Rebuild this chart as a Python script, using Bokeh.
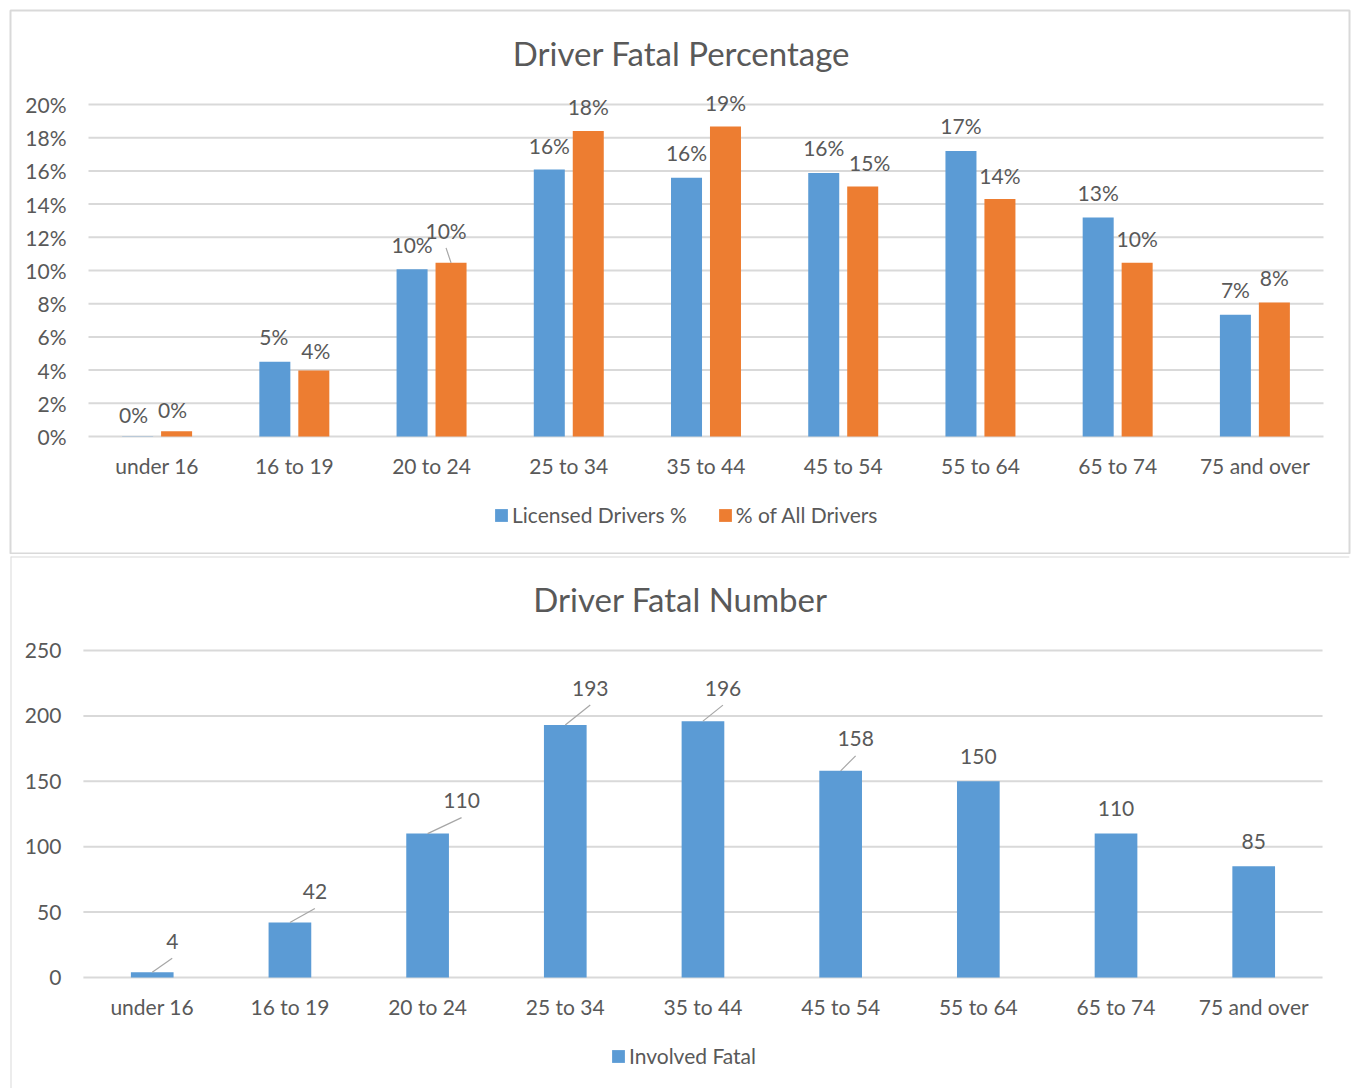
from bokeh.plotting import figure
from bokeh.models import (Range1d, FixedTicker, Legend, LegendItem,
                          ColumnDataSource, Label, Span)
from bokeh.layouts import column
from bokeh.core.properties import value
from bokeh.embed import file_html
from bokeh.resources import INLINE

# ---------------- data ----------------
categories = ["under 16", "16 to 19", "20 to 24", "25 to 34", "35 to 44",
              "45 to 54", "55 to 64", "65 to 74", "75 and over"]
licensed_pct = [0.02, 4.5, 10.07, 16.09, 15.58, 15.88, 17.20, 13.20, 7.34]
all_drivers_pct = [0.32, 3.97, 10.46, 18.40, 18.68, 15.06, 14.30, 10.46, 8.07]
involved_fatal = [4, 42, 110, 193, 196, 158, 150, 110, 85]
pct_ticks = [0, 2, 4, 6, 8, 10, 12, 14, 16, 18, 20]
num_ticks = [0, 50, 100, 150, 200, 250]

# ---------------- style ----------------
FONT = "Lato"
TXT = "#595959"
GRID = "#D9D9D9"
BLUE = "#5B9BD5"
ORANGE = "#ED7D31"
LEADER = "#A6A6A6"
W = 1351
FS = "21px"

# label placement tweaks (screen px; dy = upward distance of label centre above bar top)
lic_lbl_dx = [-4, -1, 0, 0, 0, 0, 0, 0, 0]
lic_lbl_dy = [22, 25, 25, 24, 25, 25, 25, 25, 25]
all_lbl_dx = [-4, 2, -5, 0, 0, 7, 0, 0, 0]
all_lbl_dy = [22, 20, 32, 25, 24, 24, 24, 24, 25]
all_leader = [0, 0, 1, 0, 0, 0, 0, 0, 0]
fat_lbl_dx = [20, 25, 34, 25, 20, 15, 0, 0, 0]
fat_lbl_dy = [31, 31, 33, 37, 33, 32, 25, 25, 25]
fat_leader = [1, 1, 1, 1, 1, 1, 0, 0, 0]

idx = list(range(len(categories)))


def pct_label(v):
    return f"{int(v + 0.5)}%"


def make_fig(H, mb, cat_left, cat_right, zero_y, unit_px, ticks, labels,
             title, title_cx, title_cy, full_outline=True):
    """mb = (left, right, top, bottom) borders; other geometry is frame-relative px."""
    mbl, mbr, mbt, mbb = mb
    fw = W - mbl - mbr
    fh = H - mbt - mbb
    pxc = (cat_right - cat_left) / len(categories)
    x0 = -0.5 - cat_left / pxc
    x1 = -0.5 + (fw - cat_left) / pxc
    y1 = zero_y / unit_px
    y0 = -(fh - zero_y) / unit_px
    p = figure(x_range=Range1d(x0, x1), y_range=Range1d(y0, y1),
               width=W, height=H, output_backend="svg", toolbar_location=None,
               min_border_left=mbl, min_border_right=mbr, min_border_top=mbt,
               min_border_bottom=mbb)
    if full_outline:
        p.outline_line_color = GRID
        p.outline_line_width = 2
    else:
        p.outline_line_color = None
        p.add_layout(Span(location=y1, dimension="width", line_color=GRID, line_width=2))
        p.add_layout(Span(location=x0, dimension="height", line_color=GRID, line_width=2))
    p.background_fill_color = "white"
    p.border_fill_color = "white"
    p.xgrid.grid_line_color = None
    p.ygrid.grid_line_color = None
    # horizontal grid lines limited to the plot area (category span)
    n = len(ticks)
    p.segment(x0=[-0.5] * n, x1=[len(categories) - 0.5] * n, y0=ticks, y1=ticks,
              line_color=GRID, line_width=2, level="underlay")
    p.yaxis.ticker = FixedTicker(ticks=ticks)
    p.yaxis.major_label_overrides = {t: l for t, l in zip(ticks, labels)}
    p.xaxis.ticker = FixedTicker(ticks=idx)
    p.xaxis.major_label_overrides = {i: c for i, c in zip(idx, categories)}
    p.xaxis.fixed_location = 0
    p.yaxis.fixed_location = -0.5
    for ax in (p.xaxis[0], p.yaxis[0]):
        ax.axis_line_color = None
        ax.major_tick_line_color = None
        ax.minor_tick_line_color = None
        ax.major_tick_out = 0
        ax.major_tick_in = 0
        ax.minor_tick_out = 0
        ax.major_label_text_font = FONT
        ax.major_label_text_font_size = FS
        ax.major_label_text_color = TXT
    p.yaxis.major_label_standoff = 22
    p.xaxis.major_label_standoff = 16
    tx = -0.5 + (title_cx - cat_left) / pxc
    ty = (zero_y - title_cy) / unit_px
    p.add_layout(Label(x=tx, y=ty, text=title, text_align="center",
                       text_baseline="middle", text_font=FONT,
                       text_font_size="33px", text_color=TXT))
    return p, pxc


def legend(p, items, loc, spacing=30):
    lg = Legend(items=items, orientation="horizontal", location=loc,
                glyph_width=16, glyph_height=16, label_standoff=3, spacing=spacing,
                label_text_font=FONT, label_text_font_size=FS,
                label_text_color=TXT, border_line_color=None,
                background_fill_alpha=0, padding=0, margin=0)
    p.add_layout(lg)


# ================= top chart =================
H1 = 554
U1 = 16.6
p1, pxc1 = make_fig(H1, (10, 2, 10, 1), 78, 1313, 426, U1, pct_ticks,
                    [f"{t}%" for t in pct_ticks], "Driver Fatal Percentage", 671, 42)

OFF1 = 0.142
BW1 = 0.226
src1 = ColumnDataSource(dict(
    xl=[i - OFF1 for i in idx], xa=[i + OFF1 for i in idx],
    lic=licensed_pct, alld=all_drivers_pct,
    lic_txt=[pct_label(v) for v in licensed_pct],
    all_txt=[pct_label(v) for v in all_drivers_pct],
    lic_dx=lic_lbl_dx, lic_dy=[-d for d in lic_lbl_dy],
    all_dx=all_lbl_dx, all_dy=[-d for d in all_lbl_dy],
))
r_lic = p1.vbar(x="xl", top="lic", width=BW1, source=src1,
                fill_color=BLUE, line_color=None)
r_all = p1.vbar(x="xa", top="alld", width=BW1, source=src1,
                fill_color=ORANGE, line_color=None)
for xcol, ycol, tcol, dxcol, dycol in (("xl", "lic", "lic_txt", "lic_dx", "lic_dy"),
                                        ("xa", "alld", "all_txt", "all_dx", "all_dy")):
    p1.text(x=xcol, y=ycol, text=tcol, source=src1,
            x_offset=dxcol, y_offset=dycol, text_align="center",
            text_baseline="middle", text_font=value(FONT),
            text_font_size=FS, text_color=TXT)

lx0, ly0, lx1, ly1 = [], [], [], []
for i, v in enumerate(all_drivers_pct):
    if all_leader[i]:
        xc = i + OFF1
        lx0.append(xc)
        ly0.append(v)
        lx1.append(xc + all_lbl_dx[i] / pxc1)
        ly1.append(v + (all_lbl_dy[i] - 17) / U1)
p1.segment(x0=lx0, y0=ly0, x1=lx1, y1=ly1, line_color=LEADER, line_width=1.2)

legend(p1, [LegendItem(label="Licensed Drivers %", renderers=[r_lic]),
            LegendItem(label="% of All Drivers", renderers=[r_all])], (483, 26))

# ================= bottom chart =================
H2 = 534
U2 = 327 / 250
p2, pxc2 = make_fig(H2, (10, 0, 2, 0), 73, 1314, 421, U2, num_ticks,
                    [str(t) for t in num_ticks], "Driver Fatal Number", 671, 42,
                    full_outline=False)

src2 = ColumnDataSource(dict(
    x=idx, val=involved_fatal, txt=[str(v) for v in involved_fatal],
    dx=fat_lbl_dx, dy=[-d for d in fat_lbl_dy],
))
r_fat = p2.vbar(x="x", top="val", width=0.31, source=src2,
                fill_color=BLUE, line_color=None)
p2.text(x="x", y="val", text="txt", source=src2, x_offset="dx", y_offset="dy",
        text_align="center", text_baseline="middle", text_font=value(FONT),
        text_font_size=FS, text_color=TXT)

bx0, by0, bx1, by1 = [], [], [], []
for i, v in enumerate(involved_fatal):
    if fat_leader[i]:
        bx0.append(i)
        by0.append(v)
        bx1.append(i + fat_lbl_dx[i] / pxc2)
        by1.append(v + (fat_lbl_dy[i] - 17) / U2)
p2.segment(x0=bx0, y0=by0, x1=bx1, y1=by1, line_color=LEADER, line_width=1.2)

legend(p2, [LegendItem(label="Involved Fatal", renderers=[r_fat])], (600, 20))

layout = column(p1, p2, spacing=0)
open("out.html", "w").write(file_html(layout, INLINE))
